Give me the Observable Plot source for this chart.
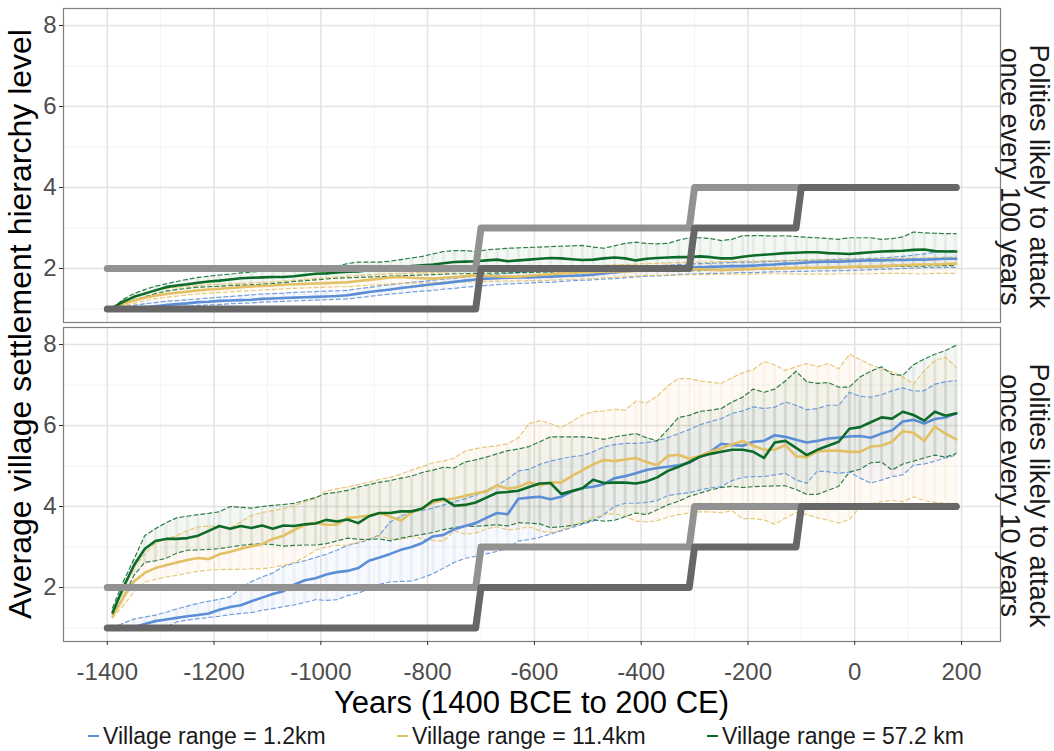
<!DOCTYPE html>
<html>
<head>
<meta charset="utf-8">
<script src="https://cdn.jsdelivr.net/npm/d3@7"></script>
<script src="https://cdn.jsdelivr.net/npm/@observablehq/plot@0.6"></script>
<style>
  html, body { margin: 0; padding: 0; background: #fff; }
  #wrap { position: relative; width: 1054px; height: 751px; font-family: "Liberation Sans", Arial, sans-serif; overflow: hidden; }
  #chart { position: absolute; left: 0; top: 0; }
  .lg-key { position: absolute; height: 0; border-top: 2.6px solid; width: 11px; }
  .lg-txt { position: absolute; font-size: 23px; color: #1a1a1a; white-space: nowrap; line-height: 1; }
</style>
</head>
<body>
<div id="wrap"><div id="chart"></div><div id="legend"></div></div>
<script>
// ---------------- data ----------------
const years = [-1390,-1370,-1350,-1330,-1310,-1290,-1270,-1250,-1230,-1210,
  -1190,-1170,-1150,-1130,-1110,-1090,-1070,-1050,-1030,-1010,
  -990,-970,-950,-930,-910,-890,-870,-850,-830,-810,
  -790,-770,-750,-730,-710,-690,-670,-650,-630,-610,
  -590,-570,-550,-530,-510,-490,-470,-450,-430,-410,
  -390,-370,-350,-330,-310,-290,-270,-250,-230,-210,
  -190,-170,-150,-130,-110,-90,-70,-50,-30,-10,
  10,30,50,70,90,110,130,150,170,190];

const panels = ["Polities likely to attack\nonce every 100 years", "Polities likely to attack\nonce every 10 years"];
const seriesNames = ["Village range = 1.2km", "Village range = 11.4km", "Village range = 57.2 km"];
const seriesColors = ["#5b8ed6", "#e3c063", "#0d6b2a"];
const ribbonColors = ["#6f9be0", "#f3ad66", "#3f8a50"];

// Top panel (attack once every 100 years)
const top_blue_mean = [1.0,1.01,1.03,1.05,1.07,1.1,1.12,1.14,1.17,1.18,1.2,1.21,1.22,1.23,1.25,1.26,1.27,1.28,1.29,1.3,1.31,1.32,1.34,1.38,1.42,1.45,1.48,1.52,1.55,1.58,1.61,1.64,1.67,1.7,1.73,1.75,1.76,1.77,1.78,1.78,1.79,1.8,1.81,1.82,1.83,1.85,1.88,1.9,1.93,1.95,1.98,2.0,2.01,2.02,2.03,2.03,2.04,2.05,2.06,2.06,2.07,2.09,2.1,2.12,2.13,2.15,2.16,2.17,2.17,2.18,2.19,2.2,2.2,2.21,2.21,2.22,2.22,2.23,2.24,2.24];
const top_blue_lo = [1.0,1.0,1.01,1.02,1.03,1.05,1.06,1.07,1.09,1.1,1.11,1.13,1.14,1.15,1.17,1.18,1.19,1.2,1.21,1.22,1.23,1.24,1.25,1.28,1.31,1.34,1.37,1.39,1.42,1.44,1.46,1.49,1.51,1.54,1.56,1.58,1.6,1.62,1.63,1.64,1.66,1.66,1.68,1.7,1.71,1.72,1.74,1.75,1.77,1.79,1.81,1.82,1.83,1.85,1.86,1.87,1.88,1.88,1.89,1.9,1.9,1.91,1.92,1.92,1.93,1.93,1.94,1.94,1.95,1.95,1.96,1.97,1.98,1.99,2.0,2.01,2.02,2.02,2.03,2.03];
const top_blue_hi = [1.0,1.05,1.09,1.13,1.16,1.19,1.21,1.23,1.25,1.27,1.29,1.31,1.33,1.35,1.37,1.38,1.39,1.41,1.42,1.43,1.44,1.45,1.46,1.5,1.53,1.57,1.6,1.63,1.66,1.68,1.71,1.74,1.76,1.79,1.81,1.83,1.86,1.88,1.9,1.92,1.94,1.95,1.96,1.96,1.97,1.98,1.98,1.99,2.01,2.03,2.05,2.07,2.08,2.1,2.11,2.12,2.13,2.14,2.15,2.16,2.16,2.17,2.18,2.19,2.2,2.2,2.21,2.22,2.23,2.23,2.24,2.25,2.26,2.28,2.3,2.33,2.36,2.4,2.43,2.45];
const top_yellow_mean = [1.03,1.13,1.21,1.28,1.33,1.37,1.4,1.43,1.46,1.48,1.5,1.52,1.54,1.56,1.57,1.58,1.6,1.61,1.62,1.63,1.64,1.65,1.66,1.69,1.72,1.75,1.78,1.79,1.77,1.76,1.75,1.77,1.79,1.81,1.83,1.82,1.81,1.8,1.8,1.82,1.84,1.86,1.88,1.89,1.91,1.91,1.92,1.93,1.93,1.94,1.95,1.95,1.96,1.96,1.97,1.98,1.97,1.96,1.97,1.98,1.99,2.0,2.0,2.01,2.01,2.02,2.02,2.03,2.03,2.04,2.05,2.05,2.06,2.07,2.08,2.09,2.1,2.1,2.11,2.12];
const top_yellow_lo = [1.02,1.08,1.14,1.2,1.25,1.29,1.32,1.35,1.37,1.39,1.41,1.42,1.44,1.45,1.47,1.48,1.5,1.51,1.52,1.53,1.54,1.55,1.55,1.57,1.59,1.6,1.62,1.63,1.64,1.64,1.65,1.66,1.66,1.67,1.67,1.68,1.68,1.69,1.69,1.7,1.7,1.71,1.72,1.73,1.74,1.75,1.77,1.78,1.8,1.81,1.83,1.83,1.84,1.84,1.85,1.85,1.85,1.86,1.86,1.86,1.86,1.87,1.87,1.87,1.86,1.86,1.86,1.86,1.87,1.87,1.87,1.87,1.88,1.88,1.88,1.87,1.87,1.88,1.88,1.88];
const top_yellow_hi = [1.05,1.2,1.31,1.39,1.46,1.51,1.54,1.56,1.58,1.6,1.61,1.62,1.63,1.65,1.66,1.67,1.69,1.71,1.73,1.75,1.77,1.79,1.81,1.83,1.84,1.86,1.87,1.88,1.89,1.9,1.9,1.91,1.92,1.93,1.95,1.96,1.98,1.99,2.0,2.01,2.02,2.03,2.04,2.05,2.06,2.07,2.08,2.09,2.1,2.11,2.12,2.13,2.14,2.15,2.15,2.16,2.16,2.17,2.17,2.18,2.18,2.19,2.19,2.2,2.2,2.21,2.21,2.22,2.22,2.23,2.23,2.24,2.24,2.25,2.25,2.26,2.26,2.27,2.28,2.28];
const top_green_mean = [1.03,1.18,1.3,1.38,1.46,1.54,1.58,1.61,1.65,1.68,1.7,1.73,1.76,1.77,1.78,1.79,1.79,1.81,1.84,1.87,1.88,1.9,1.92,1.93,1.96,1.98,2.0,2.03,2.06,2.08,2.1,2.13,2.16,2.17,2.18,2.2,2.22,2.18,2.2,2.22,2.24,2.26,2.25,2.23,2.21,2.22,2.25,2.27,2.25,2.2,2.24,2.26,2.27,2.28,2.28,2.3,2.28,2.25,2.25,2.29,2.32,2.34,2.36,2.38,2.39,2.4,2.4,2.38,2.37,2.36,2.38,2.4,2.42,2.43,2.44,2.46,2.47,2.43,2.42,2.42];
const top_green_lo = [1.03,1.12,1.22,1.3,1.38,1.44,1.48,1.51,1.54,1.55,1.56,1.58,1.59,1.6,1.61,1.63,1.65,1.68,1.7,1.72,1.74,1.76,1.77,1.78,1.79,1.8,1.81,1.82,1.83,1.84,1.85,1.86,1.87,1.87,1.88,1.88,1.89,1.89,1.9,1.9,1.91,1.91,1.92,1.92,1.92,1.93,1.93,1.93,1.93,1.94,1.94,1.94,1.94,1.95,1.95,1.95,1.96,1.96,1.97,1.97,1.98,1.98,1.99,2.0,2.0,2.01,2.01,2.02,2.02,2.03,2.03,2.04,2.04,2.05,2.05,2.06,2.06,2.07,2.07,2.07];
const top_green_hi = [1.03,1.24,1.38,1.48,1.56,1.62,1.68,1.73,1.78,1.81,1.84,1.86,1.89,1.91,1.94,1.97,2.02,2.07,2.06,2.05,2.05,2.06,2.12,2.16,2.16,2.16,2.18,2.22,2.26,2.3,2.36,2.42,2.44,2.44,2.42,2.46,2.48,2.5,2.51,2.52,2.53,2.54,2.55,2.56,2.57,2.53,2.5,2.56,2.62,2.65,2.62,2.61,2.62,2.7,2.76,2.76,2.74,2.69,2.72,2.81,2.81,2.81,2.8,2.81,2.79,2.77,2.76,2.74,2.72,2.76,2.76,2.76,2.72,2.74,2.78,2.9,2.88,2.87,2.86,2.86];

// Bottom panel (attack once every 10 years)
const bot_blue_mean = [1.01,1.01,1.02,1.1,1.17,1.21,1.25,1.29,1.32,1.36,1.45,1.52,1.56,1.66,1.75,1.84,1.91,2.07,2.18,2.23,2.32,2.38,2.41,2.48,2.66,2.74,2.83,2.93,3.0,3.1,3.26,3.3,3.44,3.52,3.59,3.72,3.84,3.81,4.19,4.22,4.24,4.18,4.24,4.37,4.46,4.49,4.55,4.7,4.75,4.82,4.9,4.95,4.98,5.02,5.08,5.23,5.36,5.55,5.52,5.5,5.6,5.62,5.76,5.72,5.65,5.58,5.62,5.68,5.7,5.73,5.74,5.7,5.8,5.88,6.1,6.14,6.05,6.16,6.2,6.3];
const bot_blue_lo = [1.0,1.0,1.0,1.0,1.0,1.02,1.15,1.2,1.23,1.26,1.29,1.33,1.36,1.38,1.44,1.48,1.53,1.57,1.63,1.7,1.68,1.7,1.8,1.86,1.97,2.08,2.14,2.15,2.16,2.24,2.34,2.48,2.62,2.72,2.77,2.83,2.89,2.96,3.15,3.18,3.24,3.32,3.4,3.48,3.56,3.64,3.8,4.0,4.08,4.08,4.1,4.15,4.27,4.31,4.34,4.41,4.46,4.49,4.64,4.72,4.74,4.74,4.78,4.82,4.66,4.57,4.88,4.86,4.82,4.85,4.7,4.58,4.65,4.74,4.78,5.02,5.05,5.12,5.2,5.27];
const bot_blue_hi = [1.0,1.12,1.22,1.27,1.32,1.39,1.47,1.54,1.61,1.66,1.71,1.77,1.98,2.15,2.26,2.36,2.52,2.6,2.66,2.74,2.82,2.92,3.04,3.1,3.18,3.3,3.62,3.76,3.88,3.9,3.96,4.04,4.12,4.19,4.28,4.4,4.53,4.68,4.88,4.92,5.04,5.12,5.18,5.23,5.26,5.35,5.47,5.53,5.56,5.56,5.58,5.62,5.7,5.8,5.9,6.02,6.1,6.17,6.3,6.36,6.46,6.42,6.45,6.58,6.5,6.39,6.42,6.5,6.5,6.82,6.72,6.7,6.76,6.86,6.93,6.85,6.86,7.02,7.08,7.11];
const bot_yellow_mean = [1.29,1.75,2.15,2.36,2.48,2.55,2.62,2.68,2.73,2.7,2.82,2.88,2.96,3.02,3.07,3.2,3.28,3.42,3.55,3.6,3.55,3.55,3.72,3.74,3.78,3.84,3.75,3.65,3.86,3.95,4.1,4.16,4.2,4.26,4.33,4.37,4.52,4.44,4.48,4.6,4.52,4.6,4.59,4.75,4.9,5.04,5.15,5.12,5.16,5.2,5.1,5.02,5.25,5.28,5.18,5.25,5.35,5.44,5.54,5.62,5.5,5.4,5.4,5.52,5.24,5.22,5.36,5.38,5.38,5.35,5.35,5.48,5.5,5.6,5.86,5.82,5.62,5.97,5.8,5.66];
const bot_yellow_lo = [1.25,1.55,1.9,2.13,2.2,2.26,2.3,2.35,2.4,2.43,2.44,2.45,2.45,2.46,2.46,2.5,2.55,2.62,2.75,2.92,3.0,3.04,3.05,3.12,3.2,3.28,3.2,3.18,3.26,3.2,3.16,3.14,3.4,3.32,3.34,3.45,3.5,3.42,3.45,3.5,3.4,3.35,3.42,3.52,3.62,3.72,3.8,3.82,3.76,3.64,3.62,3.65,3.74,3.8,3.84,3.87,3.87,3.84,3.9,3.7,3.7,3.67,3.56,3.71,3.85,3.8,3.72,3.66,3.59,3.68,3.98,4.06,4.12,4.15,4.12,4.24,4.15,4.1,4.08,4.08];
const bot_yellow_hi = [1.4,1.95,2.5,2.82,3.1,3.2,3.28,3.4,3.5,3.52,3.5,3.47,3.62,3.78,3.85,3.9,3.95,4.02,4.12,4.2,4.38,4.44,4.48,4.54,4.6,4.67,4.72,4.8,4.9,4.98,5.08,5.12,5.2,5.37,5.43,5.47,5.5,5.55,5.7,6.05,6.12,6.05,5.94,6.1,6.26,6.34,6.36,6.4,6.38,6.6,6.56,6.72,6.98,7.16,7.16,7.1,7.07,7.04,7.18,7.3,7.38,7.58,7.5,7.36,7.45,7.53,7.45,7.53,7.4,7.76,7.63,7.5,7.4,7.32,7.2,7.02,7.35,7.6,7.69,7.44];
const bot_green_mean = [1.38,2.0,2.55,2.95,3.15,3.2,3.2,3.22,3.28,3.4,3.52,3.45,3.52,3.47,3.53,3.45,3.53,3.52,3.56,3.58,3.67,3.63,3.68,3.59,3.76,3.84,3.84,3.88,3.88,3.95,4.15,4.19,4.02,4.04,4.1,4.22,4.34,4.36,4.39,4.48,4.57,4.58,4.31,4.38,4.45,4.66,4.58,4.59,4.59,4.57,4.62,4.72,4.88,4.98,5.1,5.23,5.3,5.35,5.4,5.4,5.35,5.2,5.58,5.62,5.45,5.27,5.4,5.5,5.6,5.92,5.96,6.08,6.2,6.17,6.34,6.26,6.12,6.34,6.24,6.3];
const bot_green_lo = [1.33,1.75,2.3,2.62,2.66,2.72,2.85,2.92,2.93,2.94,2.96,3.0,3.04,3.07,3.08,3.06,3.02,3.04,3.05,3.05,3.08,3.15,3.22,3.19,3.19,3.2,3.15,3.22,3.27,3.31,3.36,3.43,3.48,3.51,3.51,3.53,3.55,3.52,3.6,3.59,3.57,3.48,3.5,3.53,3.58,3.67,3.64,3.66,3.75,3.84,3.8,3.92,4.04,4.13,4.25,4.33,4.41,4.47,4.5,4.47,4.49,4.5,4.51,4.51,4.42,4.3,4.3,4.4,4.5,4.85,4.92,5.08,5.1,4.9,5.05,5.12,5.2,5.27,5.22,5.31];
const bot_green_hi = [1.5,2.15,2.7,3.28,3.45,3.6,3.72,3.76,3.8,3.83,3.87,4.0,3.98,3.96,4.0,4.03,4.05,4.08,4.15,4.22,4.32,4.35,4.4,4.48,4.54,4.6,4.64,4.7,4.75,4.84,4.9,4.97,4.95,5.1,5.15,5.22,5.3,5.38,5.42,5.48,5.6,5.72,5.72,5.72,5.72,5.7,5.66,5.72,5.76,5.8,5.7,5.62,5.9,6.2,6.25,6.35,6.38,6.42,6.58,6.7,6.9,6.82,6.9,7.1,7.34,7.08,7.04,7.06,6.95,6.95,7.2,7.34,7.45,7.26,7.24,7.5,7.64,7.76,7.85,7.98];

// Reference step lines (same in both panels)
const stepA_years = [-1400, -710, -700, -310, -300, 190];
const stepA_levels = [2, 2, 3, 3, 4, 4];
const stepB_years = [-1400, -710, -700, -310, -300, -110, -100, 190];
const stepB_levels = [1, 1, 2, 2, 3, 3, 4, 4];

const xTicks = [-1400, -1200, -1000, -800, -600, -400, -200, 0, 200];
const xMinor = [-1300, -1100, -900, -700, -500, -300, -100, 100];
const yTicks = [2, 4, 6, 8];
const yMinor = [1, 3, 5, 7];

// ---------------- tables ----------------
function rows(panel, si, mean, lo, hi) {
  return years.map((yr, i) => ({panel, series: seriesNames[si], year: yr, mean: mean[i], lo: lo[i], hi: hi[i]}));
}
const seriesData = [
  rows(panels[0], 0, top_blue_mean, top_blue_lo, top_blue_hi).concat(rows(panels[1], 0, bot_blue_mean, bot_blue_lo, bot_blue_hi)),
  rows(panels[0], 1, top_yellow_mean, top_yellow_lo, top_yellow_hi).concat(rows(panels[1], 1, bot_yellow_mean, bot_yellow_lo, bot_yellow_hi)),
  rows(panels[0], 2, top_green_mean, top_green_lo, top_green_hi).concat(rows(panels[1], 2, bot_green_mean, bot_green_lo, bot_green_hi))
];
const stepA = stepA_years.map((y, i) => ({year: y, level: stepA_levels[i]}));
const stepB = stepB_years.map((y, i) => ({year: y, level: stepB_levels[i]}));
const strips = panels.map(p => ({panel: p, label: p}));

// ---------------- marks ----------------
const marks = [
  Plot.ruleX(xMinor, {stroke: "#f3f3f3", strokeWidth: 1}),
  Plot.ruleY(yMinor, {stroke: "#f3f3f3", strokeWidth: 1}),
  Plot.ruleX(xTicks, {stroke: "#e3e3e3", strokeWidth: 1.5}),
  Plot.ruleY(yTicks, {stroke: "#e3e3e3", strokeWidth: 1.5}),
];
seriesData.forEach((d, i) => {
  marks.push(Plot.areaY(d, {x: "year", y1: "lo", y2: "hi", fy: "panel", fill: ribbonColors[i], fillOpacity: 0.06}));
  marks.push(Plot.ruleX(d, {x: "year", y1: "lo", y2: "hi", fy: "panel", stroke: ribbonColors[i], strokeOpacity: 0.09, strokeWidth: 3}));
});
seriesData.forEach((d, i) => {
  marks.push(Plot.lineY(d, {x: "year", y: "lo", fy: "panel", stroke: seriesColors[i], strokeOpacity: 0.85, strokeWidth: 1.2, strokeDasharray: "4,3"}));
  marks.push(Plot.lineY(d, {x: "year", y: "hi", fy: "panel", stroke: seriesColors[i], strokeOpacity: 0.85, strokeWidth: 1.2, strokeDasharray: "4,3"}));
});
seriesData.forEach((d, i) => {
  marks.push(Plot.lineY(d, {x: "year", y: "mean", fy: "panel", stroke: seriesColors[i], strokeWidth: 2.6}));
});
marks.push(Plot.line(stepA, {x: "year", y: "level", stroke: "#929292", strokeWidth: 7, strokeLinecap: "round", strokeLinejoin: "round"}));
marks.push(Plot.line(stepB, {x: "year", y: "level", stroke: "#676767", strokeWidth: 7, strokeLinecap: "round", strokeLinejoin: "round"}));
marks.push(Plot.frame({stroke: "#7f7f7f", strokeWidth: 1.2}));
marks.push(Plot.axisY({ticks: yTicks, tickSize: 4, tickPadding: 3, fontSize: 24, fill: "#4d4d4d", stroke: "#333", label: null}));
marks.push(Plot.axisX({ticks: xTicks, tickFormat: d => String(d), tickSize: 4, tickPadding: 17, fontSize: 24, fill: "#4d4d4d", stroke: "#333", label: null}));
marks.push(Plot.text(strips, {fy: "panel", text: "label", frameAnchor: "right", textAnchor: "middle", lineAnchor: "middle", dx: 24, dy: 11, rotate: 90, fontSize: 27, lineHeight: 1.04, fill: "#1a1a1a"}));

const chart = Plot.plot({
  width: 1054,
  height: 718,
  marginLeft: 63,
  marginRight: 54,
  marginTop: 8,
  marginBottom: 77,
  x: {domain: [-1482, 273]},
  y: {domain: [0.667, 8.42]},
  fy: {domain: panels, paddingInner: 0.0157, paddingOuter: 0, round: false, axis: null},
  style: {fontFamily: "'Liberation Sans', Arial, sans-serif", background: "transparent", overflow: "visible"},
  marks
});

// axis titles
const svg = d3.select(chart);
svg.append("text")
  .attr("transform", "translate(31,324) rotate(-90)")
  .attr("text-anchor", "middle")
  .attr("font-size", 32)
  .attr("fill", "#000")
  .text("Average village settlement hierarchy level");
svg.append("text")
  .attr("x", 531.5).attr("y", 713)
  .attr("text-anchor", "middle")
  .attr("font-size", 31)
  .attr("fill", "#000")
  .text("Years (1400 BCE to 200 CE)");

document.getElementById("chart").appendChild(chart);

// legend
const legend = document.getElementById("legend");
const keyLeft = [88, 397, 707];
const txtLeft = [103, 412, 722];
seriesNames.forEach((name, i) => {
  const k = document.createElement("div");
  k.className = "lg-key";
  k.style.left = keyLeft[i] + "px";
  k.style.top = "735px";
  k.style.borderTopColor = seriesColors[i];
  legend.appendChild(k);
  const t = document.createElement("div");
  t.className = "lg-txt";
  t.style.left = txtLeft[i] + "px";
  t.style.top = "725px";
  t.textContent = name;
  legend.appendChild(t);
});
</script>
</body>
</html>
